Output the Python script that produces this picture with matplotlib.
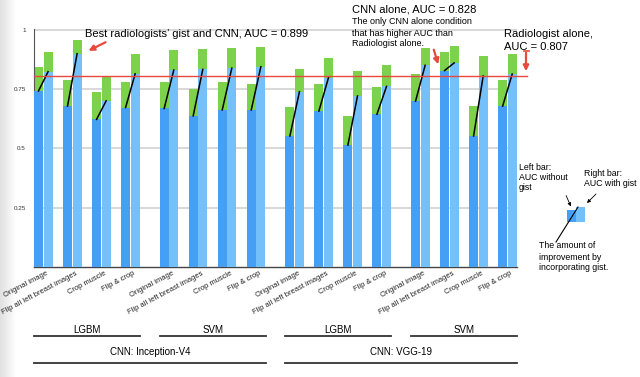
import matplotlib
matplotlib.use("Agg")
import matplotlib.pyplot as plt
import numpy as np
from matplotlib.transforms import blended_transform_factory
from matplotlib.patches import Rectangle

plt.rcParams['font.family'] = ['Liberation Sans', 'DejaVu Sans']

conditions = ["Original image", "Flip all left breast images", "Crop muscle", "Flip & crop"] * 4
classifiers = ["LGBM", "SVM", "LGBM", "SVM"]
cnns = ["CNN: Inception-V4", "CNN: VGG-19"]

# AUC without gist (left, dark blue) and its green extension top
auc_without = [0.742, 0.678, 0.622, 0.672, 0.668, 0.637, 0.662, 0.662,
               0.552, 0.657, 0.514, 0.644, 0.699, 0.828, 0.552, 0.678]
auc_without_top = [0.842, 0.787, 0.738, 0.781, 0.780, 0.750, 0.778, 0.771,
                   0.675, 0.773, 0.638, 0.757, 0.814, 0.905, 0.679, 0.787]
# AUC with gist (right, light blue) and its green extension top
auc_with = [0.823, 0.899, 0.700, 0.814, 0.830, 0.833, 0.838, 0.844,
            0.739, 0.798, 0.721, 0.761, 0.850, 0.860, 0.805, 0.813]
auc_with_top = [0.908, 0.958, 0.802, 0.896, 0.915, 0.918, 0.921, 0.927,
                0.835, 0.881, 0.826, 0.852, 0.923, 0.930, 0.890, 0.897]
radiologist_auc = 0.807
ytick_vals = [0.25, 0.5, 0.75, 1.0]
ytick_labels = ["0.25", "0.5", "0.75", "1"]

DARK = "#45a0f5"
LIGHT = "#74c0fa"
GREEN = "#7dd24b"
RED = "#e8493c"

W, H = 640, 377
fig = plt.figure(figsize=(6.4, 3.77), dpi=100)

# left edge shadow (background)
bg = fig.add_axes([0, 0, 16 / W, 1], zorder=-5)
grad = np.linspace(0.88, 1.0, 50).reshape(1, -1)
bg.imshow(np.dstack([grad, grad, grad]), aspect='auto', extent=[0, 1, 0, 1])
bg.axis("off")

ax = fig.add_axes([34 / W, 1 - 267 / H, (517 - 34) / W, (267 - 29) / H], zorder=1)
ax.patch.set_alpha(0)

bw = 0.31
n = len(conditions)
g = np.array([i + (i // 4) * 0.33 for i in range(n)])
xl = g + bw / 2
xr = g + 0.33 + bw / 2

ax.bar(xl, np.array(auc_without_top) - np.array(auc_without), bw, bottom=auc_without, color=GREEN, zorder=2, linewidth=0)
ax.bar(xr, np.array(auc_with_top) - np.array(auc_with), bw, bottom=auc_with, color=GREEN, zorder=2, linewidth=0)
ax.bar(xl, auc_without, bw, color=DARK, zorder=3, linewidth=0)
ax.bar(xr, auc_with, bw, color=LIGHT, zorder=3, linewidth=0)
for a, b, c, d in zip(xl, auc_without, xr, auc_with):
    ax.plot([a, c], [b, d], color="black", lw=1.1, zorder=4)

xmax = g[-1] + 0.65
ax.set_xlim(0, xmax)
ax.set_ylim(0, 1.003)
ax.set_yticks(ytick_vals)
ax.set_yticklabels(ytick_labels, fontsize=4.5, color="#333333")
ax.tick_params(axis='y', length=0, pad=6)
ax.yaxis.grid(True, color="#d6d6d6", lw=1.3, zorder=0)
ax.set_axisbelow(True)
ax.set_xticks(g + 0.42)
ax.set_xticklabels(conditions, rotation=28, ha='right', va='top', rotation_mode='anchor', fontsize=5.4, color="#222222")
ax.tick_params(axis='x', length=0, pad=2)
for s in ["top", "right"]:
    ax.spines[s].set_visible(False)
ax.spines["left"].set_color("#555555")
ax.spines["left"].set_linewidth(0.8)
ax.spines["bottom"].set_color("#444444")
ax.spines["bottom"].set_linewidth(1.0)

ax.plot([0, xmax + 0.35], [radiologist_auc] * 2, color=RED, lw=1.0, zorder=5, clip_on=False)

# overlay in pixel coordinates for annotations
ov = fig.add_axes([0, 0, 1, 1], facecolor="none", zorder=2)
ov.set_xlim(0, W)
ov.set_ylim(H, 0)
ov.axis("off")


def lines(x, ys, texts, fs):
    for y, t in zip(ys, texts):
        ov.text(x, y, t, fontsize=fs, va='center', ha='left')


ov.text(85, 34, "Best radiologists\u2019 gist and CNN, AUC = 0.899", fontsize=8, va='center', ha='left')
arrow = dict(arrowstyle='-|>', color=RED, lw=1.6, mutation_scale=8)
ov.annotate("", xy=(86, 52), xytext=(108, 41), arrowprops=arrow)
ov.text(352, 10, "CNN alone, AUC = 0.828", fontsize=8, va='center', ha='left')
lines(352, [22, 33, 43.5], ["The only CNN alone condition", "that has higher AUC than", "Radiologist alone."], 6.5)
ov.annotate("", xy=(439, 67), xytext=(433, 47), arrowprops=arrow)
lines(504, [34, 47], ["Radiologist alone,", "AUC = 0.807"], 8)
ov.annotate("", xy=(526, 74), xytext=(526, 50), arrowprops=arrow)
ov.plot([523.5, 528.5], [51, 51], color=RED, lw=1.2)

# legend illustration
ov.add_patch(Rectangle((567, 210), 8.5, 12, color=DARK, lw=0))
ov.add_patch(Rectangle((576, 207), 8.5, 15, color=LIGHT, lw=0))
ov.plot([556, 578], [242, 207], color="black", lw=0.8)
lines(519, [167, 177.5, 188], ["Left bar:", "AUC without", "gist"], 6.3)
lines(584, [173, 183.5], ["Right bar:", "AUC with gist"], 6.3)
lines(539, [246, 257, 268], ["The amount of", "improvement by", "incorporating gist."], 6.3)
small = dict(arrowstyle='-|>', color="black", lw=0.6, mutation_scale=5)
ov.annotate("", xy=(572, 209), xytext=(565, 193), arrowprops=small)
ov.annotate("", xy=(585, 205), xytext=(598, 192), arrowprops=small)

# group labels under the chart
tr = blended_transform_factory(ax.transData, ov.transData)
for b in range(4):
    x0 = g[b * 4]
    x1 = g[b * 4 + 3] + 0.65
    ov.plot([x0, x1], [336, 336], color="#333333", lw=1.3, transform=tr, clip_on=False)
    ov.text((x0 + x1) / 2, 330, classifiers[b], fontsize=7, ha='center', va='center', transform=tr)
for c in range(2):
    x0 = g[c * 8]
    x1 = g[c * 8 + 7] + 0.65
    ov.plot([x0, x1], [363, 363], color="#333333", lw=1.3, transform=tr, clip_on=False)
    ov.text((x0 + x1) / 2, 352, cnns[c], fontsize=7, ha='center', va='center', transform=tr)

fig.savefig("out.png", dpi=100)
